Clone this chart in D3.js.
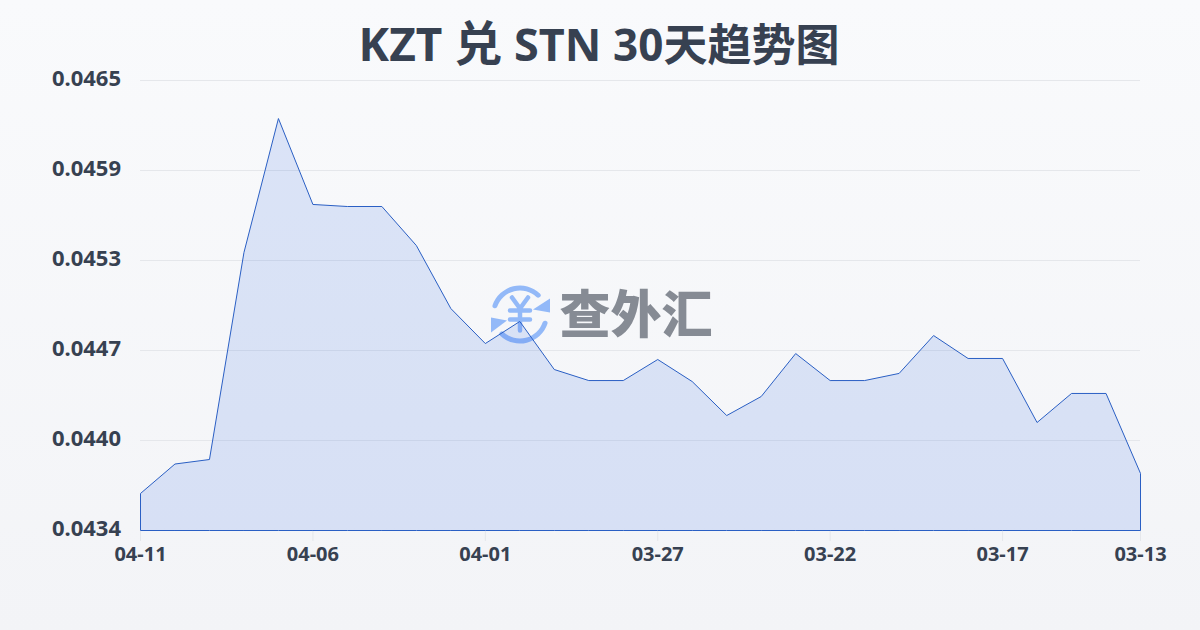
<!DOCTYPE html>
<html><head><meta charset="utf-8">
<script src="https://cdn.jsdelivr.net/npm/d3@7"></script>
<style>html,body{margin:0;padding:0;width:1200px;height:630px;overflow:hidden}svg{display:block}
text{font-family:"Noto Sans","Noto Sans CJK SC",sans-serif}</style></head><body>
<script>
const titleParts = ["KZT ","兑"," STN ","30天趋势图"];
const titleSizes = [46,48,45,44];
const watermark = "查外汇";
const dates = ["04-11","04-10","04-09","04-08","04-07","04-06","04-05","04-04","04-03","04-02","04-01","03-31","03-30","03-29","03-28","03-27","03-26","03-25","03-24","03-23","03-22","03-21","03-20","03-19","03-18","03-17","03-16","03-15","03-14","03-13"];
const rates = [0.043655,0.043858,0.043889,0.045315,0.046238,0.045646,0.045632,0.045632,0.045363,0.044929,0.044688,0.04484,0.044509,0.044433,0.044433,0.044578,0.044426,0.044192,0.044323,0.044619,0.044433,0.044433,0.044482,0.044743,0.044585,0.044585,0.044144,0.044344,0.044344,0.043793];
const xLabels = ["04-11","04-06","04-01","03-27","03-22","03-17","03-13"];
const yTicks = [0.0434,0.04402,0.04464,0.04526,0.04588,0.0465];
const yLabels = ["0.0434","0.0440","0.0447","0.0453","0.0459","0.0465"];

const svg = d3.select("body").append("svg").attr("width",1200).attr("height",630);
const defs = svg.append("defs");
const bg = defs.append("linearGradient").attr("id","bg").attr("x1",0).attr("x2",0).attr("y1",0).attr("y2",1);
bg.append("stop").attr("offset",0).attr("stop-color","#f9fafc");
bg.append("stop").attr("offset",1).attr("stop-color","#f3f4f7");
svg.append("rect").attr("width",1200).attr("height",630).attr("fill","url(#bg)");

const x = d3.scalePoint().domain(dates).range([140.5,1140.5]);
const y = d3.scaleLinear().domain([0.0434,0.0465]).range([530.5,80.5]);

// grid
svg.append("g").selectAll("line").data(yTicks.slice(1)).join("line")
  .attr("x1",140).attr("x2",1140).attr("y1",d=>y(d)).attr("y2",d=>y(d))
  .attr("stroke","#e5e7eb").attr("stroke-width",1);

// watermark
const wm = svg.append("g");
const ic = wm.append("g").attr("transform","translate(520,314.5)");
const blue = "#93b9f8";
const arc = d3.arc().innerRadius(24).outerRadius(29).cornerRadius(2.5);
ic.append("path").attr("d",arc({startAngle:-1.33,endAngle:0.85})).attr("fill",blue);
ic.append("path").attr("d",arc({startAngle:1.81,endAngle:3.99})).attr("fill",blue);
ic.append("path").attr("d",d3.line()([[30,-16],[30,-2],[13,-5]])+"Z").attr("fill",blue);
ic.append("path").attr("d",d3.line()([[-29,3],[-29,18],[-13,6]])+"Z").attr("fill",blue);
ic.append("path").attr("d","M-8,-17L0,-6L8,-17M-10,-4H10M-10,5H10M0,-6V16").attr("fill","none")
  .attr("stroke",blue).attr("stroke-width",4.5).attr("stroke-linecap","round");
wm.append("text").attr("x",636).attr("y",333).attr("text-anchor","middle")
  .attr("font-size",51).attr("font-weight",900).attr("fill","#868b94").text(watermark);

// area + line
const area = d3.area().x((d,i)=>x(dates[i])).y0(530.5).y1(d=>y(d));
svg.append("path").datum(rates).attr("d",area).attr("fill","#2a62e0").attr("fill-opacity",0.14);
svg.append("path").datum(rates).attr("d",area).attr("fill","none").attr("stroke","#2a5fc4").attr("stroke-width",1);

// x ticks
svg.append("g").selectAll("line").data(xLabels).join("line")
  .attr("x1",d=>x(d)).attr("x2",d=>x(d)).attr("y1",531).attr("y2",541).attr("stroke","#e5e7eb");

svg.append("g").selectAll("text").data(xLabels).join("text")
  .attr("x",d=>x(d)).attr("y",561).attr("text-anchor","middle")
  .attr("font-size",20).attr("font-weight",700).attr("fill","#374151").text(d=>d);
svg.append("g").selectAll("text").data(yTicks).join("text")
  .attr("x",121).attr("y",(d)=>y(d)+5).attr("text-anchor","end")
  .attr("font-size",22).attr("font-weight",700).attr("fill","#374151").text((d,i)=>yLabels[i]);
svg.append("text").attr("x",599).attr("y",61).attr("text-anchor","middle")
  .attr("font-weight",700).attr("fill","#374151").attr("xml:space","preserve").style("white-space","pre")
  .selectAll("tspan").data(titleParts).join("tspan")
  .attr("font-size",(d,i)=>titleSizes[i]).text(d=>d);
</script></body></html>
